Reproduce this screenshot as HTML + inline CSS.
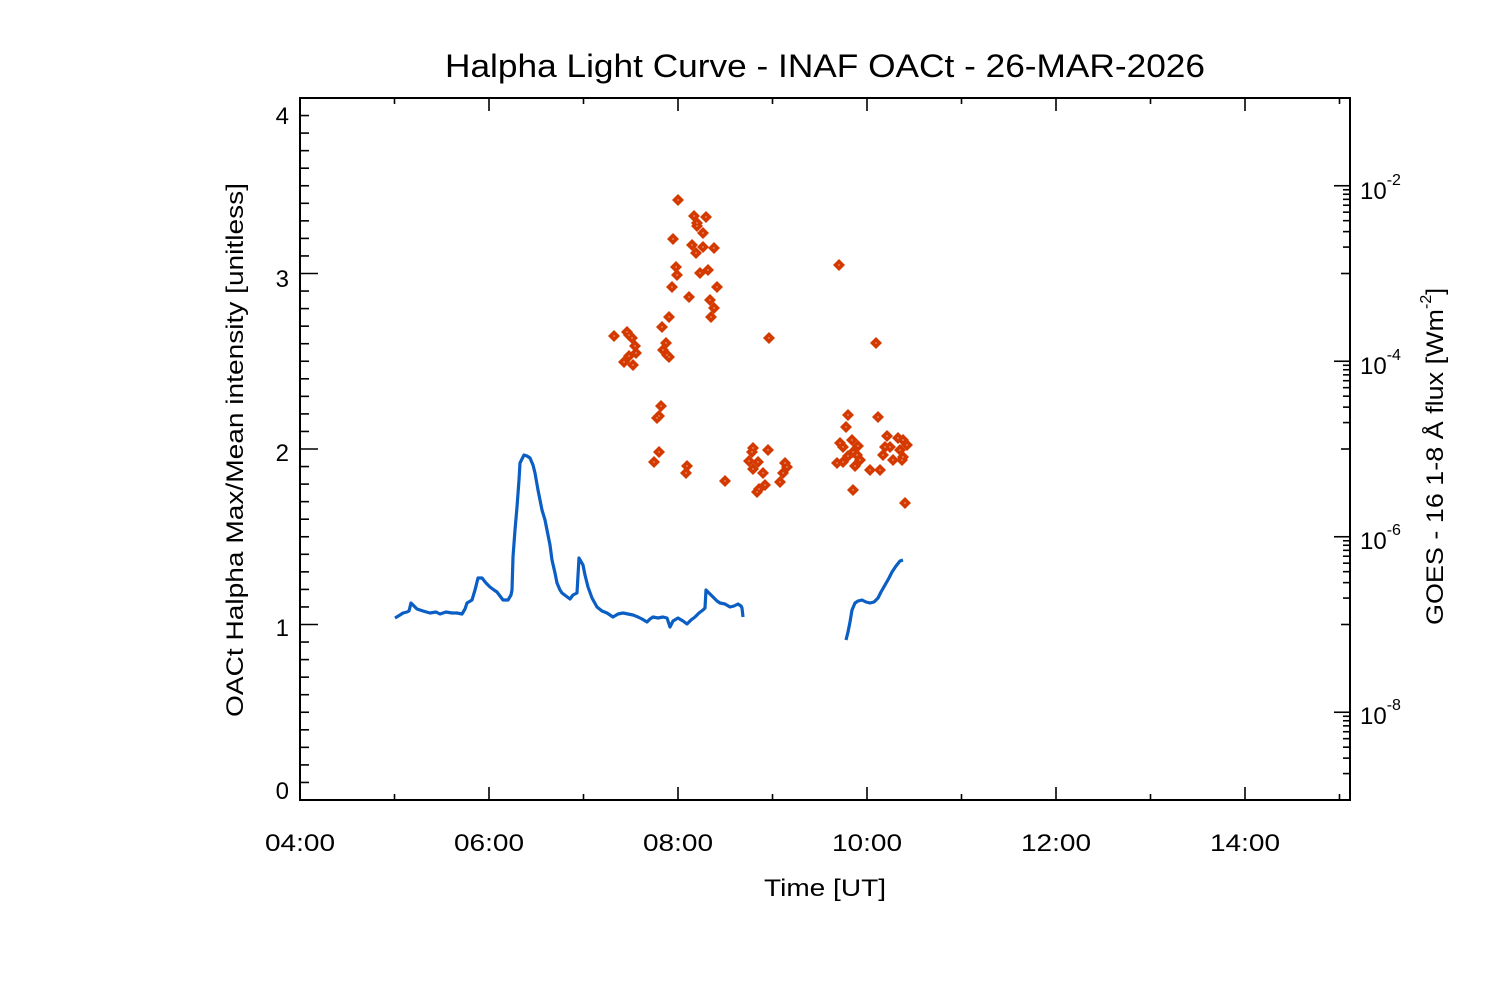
<!DOCTYPE html>
<html><head><meta charset="utf-8"><style>
html,body{margin:0;padding:0;background:#fff;}
svg{display:block;font-family:"Liberation Sans",sans-serif;}
</style></head><body>
<svg width="1500" height="1000" viewBox="0 0 1500 1000" xmlns="http://www.w3.org/2000/svg">
<rect width="1500" height="1000" fill="#fff"/>
<text x="445" y="77" font-size="32" textLength="760" lengthAdjust="spacingAndGlyphs" fill="#000">Halpha Light Curve - INAF OACt - 26-MAR-2026</text>
<rect x="300" y="98" width="1050" height="702" fill="none" stroke="#000" stroke-width="2"/>
<g id="ticks" stroke="#000" stroke-width="1.6"></g>
<g font-size="24" fill="#000" text-anchor="end">
<text x="289" y="124">4</text>
<text x="289" y="287">3</text>
<text x="289" y="461">2</text>
<text x="289" y="636">1</text>
<text x="289" y="799">0</text>
</g>
<g font-size="24" fill="#000">
<text x="265" y="851" textLength="70" lengthAdjust="spacingAndGlyphs">04:00</text>
<text x="454" y="851" textLength="70" lengthAdjust="spacingAndGlyphs">06:00</text>
<text x="643" y="851" textLength="70" lengthAdjust="spacingAndGlyphs">08:00</text>
<text x="832" y="851" textLength="70" lengthAdjust="spacingAndGlyphs">10:00</text>
<text x="1021" y="851" textLength="70" lengthAdjust="spacingAndGlyphs">12:00</text>
<text x="1210" y="851" textLength="70" lengthAdjust="spacingAndGlyphs">14:00</text>
<text x="764" y="896" textLength="122" lengthAdjust="spacingAndGlyphs">Time [UT]</text>
</g>
<g font-size="24" fill="#000">
<text x="1360" y="199">10<tspan font-size="16" dy="-14">-2</tspan></text>
<text x="1360" y="374">10<tspan font-size="16" dy="-14">-4</tspan></text>
<text x="1360" y="549">10<tspan font-size="16" dy="-14">-6</tspan></text>
<text x="1360" y="724">10<tspan font-size="16" dy="-14">-8</tspan></text>
</g>
<text transform="translate(243,717) rotate(-90)" font-size="24" textLength="534" lengthAdjust="spacingAndGlyphs" fill="#000">OACt Halpha Max/Mean intensity [unitless]</text>
<text transform="translate(1443,625) rotate(-90)" font-size="24" fill="#000"><tspan textLength="316" lengthAdjust="spacingAndGlyphs">GOES - 16 1-8 Å flux [Wm</tspan><tspan font-size="16" dy="-12">-2</tspan><tspan dy="12">]</tspan></text>
<polyline fill="none" stroke="#0a5ec4" stroke-width="3.2" stroke-linejoin="round" points="395,618 400,615 403,613 407,612 409,611 411,603 414,606 417,609 423,611 430,613 436,612 440,614 446,612 452,613 457,613 462,614 465,609 467,603 472,600 475,590 478,578 482,578 486,583 490,587 494,590 497,592 500,596 503,600 508,600 511,595 512,590 513,557 515,530 517,507 519,480 520,463 524,455 527,456 530,458 533,465 535,473 538,490 542,510 545,520 547,530 550,545 552,560 555,573 557,583 560,590 562,593 566,596 570,599 573,595 577,593 579,558 583,565 585,575 588,587 592,598 597,607 602,611 607,613 610,615 613,617 618,614 623,613 628,614 633,615 638,617 642,619 647,622 650,619 653,617 658,618 663,617 667,618 670,627 673,621 678,618 683,621 687,624 691,620 695,617 699,613 703,610 705,608 706,590 709,593 713,597 717,601 720,603 725,604 730,607 734,606 738,604 741,606 742,608 743,617"/>
<polyline fill="none" stroke="#0a5ec4" stroke-width="3.2" stroke-linejoin="round" points="846,640 848,632 850,622 852,610 855,603 858,601 862,600 866,602 870,603 874,602 878,598 881,592 885,585 889,578 892,572 896,566 900,561 903,560"/>
<g id="pts" fill="#d43a00"></g>
<script>
(function(){
var ns="http://www.w3.org/2000/svg",t=document.getElementById("ticks");
function L(x1,y1,x2,y2){var l=document.createElementNS(ns,"line");l.setAttribute("x1",x1);l.setAttribute("y1",y1);l.setAttribute("x2",x2);l.setAttribute("y2",y2);t.appendChild(l);}
for(var k=0;k<=40;k++){var y=800-17.55*k;if(y<99||y>799)continue;var len=(k%10==0)?18:9;L(300,y,300+len,y);}
for(var h=0;h<=11;h++){var x=300+94.5*h;if(x<=300||x>=1350)continue;var len=(h%2==0)?13:6;L(x,800,x,800-len);L(x,98,x,98+len);}
var D=87.75;
for(var k=1;k<=9;k++){var y=98+D*(k-1);var lab=(k%2==0);
 if(y>99&&y<799)L(1350,y,1350-(lab?16:9),y);}
[2,4,6,8].forEach(function(k){var y0=98+D*k;for(var m=2;m<=9;m++){var yy=y0-D*Math.log10(m);L(1350,yy,1350-7,yy);}});
var P=[[678,200],[694,216],[706,217],[697,223],[697,226],[703,233],[673,239],[692,245],[703,247],[714,248],[696,253],[676,267],[677,275],[700,273],[708,270],[839,265],[672,287],[717,287],[689,297],[710,300],[714,308],[711,317],[669,317],[662,327],[614,336],[627,332],[629,335],[632,338],[635,346],[636,353],[629,356],[624,362],[633,365],[666,343],[663,350],[667,355],[669,357],[769,338],[876,343],[661,406],[657,418],[659,416],[848,415],[878,417],[846,427],[887,436],[659,452],[654,462],[687,466],[686,473],[725,481],[753,448],[752,452],[768,450],[749,461],[758,462],[753,469],[763,473],[785,463],[787,467],[783,473],[780,482],[765,485],[759,489],[757,492],[840,443],[852,440],[843,447],[858,446],[853,452],[857,455],[848,456],[860,460],[837,463],[843,462],[855,466],[870,470],[880,470],[853,490],[885,447],[890,447],[898,438],[903,440],[907,445],[883,455],[900,450],[903,457],[893,460],[902,460],[905,503]];
var g=document.getElementById("pts");
P.forEach(function(p){var d=document.createElementNS(ns,"path");d.setAttribute("d","M"+p[0]+","+(p[1]-6)+"L"+(p[0]+6)+","+p[1]+"L"+p[0]+","+(p[1]+6)+"L"+(p[0]-6)+","+p[1]+"Z");g.appendChild(d);});
P.forEach(function(p){var c=document.createElementNS(ns,"rect");c.setAttribute("x",p[0]-0.5);c.setAttribute("y",p[1]-0.5);c.setAttribute("width",1);c.setAttribute("height",1);c.setAttribute("fill","#fff");g.appendChild(c);});
})();
</script>
</svg>
</body></html>
